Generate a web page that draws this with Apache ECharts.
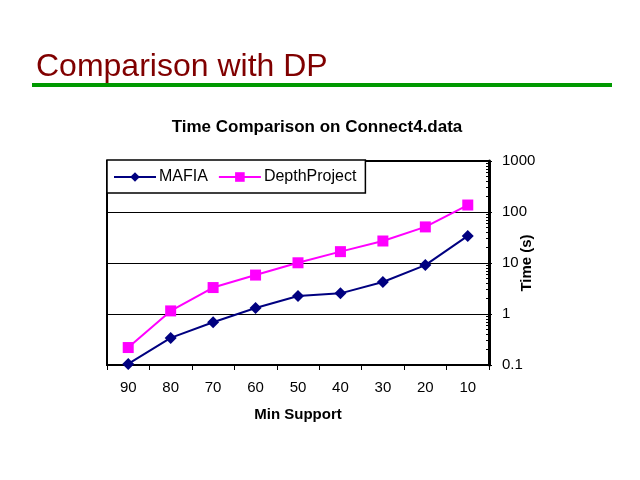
<!DOCTYPE html>
<html>
<head>
<meta charset="utf-8">
<script src="https://cdn.jsdelivr.net/npm/echarts@6/dist/echarts.min.js"></script>
<style>
html,body{margin:0;padding:0;background:#fff;}
#chart{width:640px;height:480px;}
</style>
</head>
<body>
<div id="chart"></div>
<script>
var categories = ['90', '80', '70', '60', '50', '40', '30', '20', '10'];
var mafia = [0.105, 0.34, 0.69, 1.31, 2.25, 2.54, 4.24, 9.1, 34];
var depthProject = [0.22, 1.15, 3.3, 5.8, 10.1, 16.7, 27, 51, 137];

var FONT = 'Arial, "Liberation Sans", sans-serif';
var chart = echarts.init(document.getElementById('chart'), null, {renderer: 'canvas'});
chart.setOption({
  animation: false,
  backgroundColor: '#ffffff',
  textStyle: {fontFamily: FONT},
  title: [
    {text: 'Comparison with DP', left: 31, top: 46,
     textStyle: {fontFamily: FONT, fontSize: 32, fontWeight: 'normal', color: '#800000'}},
    {text: 'Time Comparison on Connect4.data', left: 312, top: 114, textAlign: 'center',
     textStyle: {fontFamily: FONT, fontSize: 17, fontWeight: 'bold', color: '#000'}}
  ],
  graphic: [
    {type: 'rect', shape: {x: 32, y: 83, width: 580, height: 4}, style: {fill: '#009900'}, silent: true}
  ],
  legend: {
    left: 107, top: 160,
    padding: [9, 9, 8, 6],
    itemGap: 10,
    itemWidth: 42, itemHeight: 12,
    backgroundColor: '#ffffff',
    borderColor: '#000', borderWidth: 1.5, borderRadius: 0,
    textStyle: {fontFamily: FONT, fontSize: 16, color: '#000', padding: [0, 0, 0, -2]},
    data: ['MAFIA', 'DepthProject'],
    z: 10
  },
  grid: {left: 107, right: 151, top: 161, bottom: 115, show: true,
         borderColor: '#000', borderWidth: 2, backgroundColor: 'transparent'},
  xAxis: {
    type: 'category', data: categories, boundaryGap: true,
    name: 'Min Support', nameLocation: 'middle', nameGap: 42, nameMoveOverlap: false,
    nameTextStyle: {fontFamily: FONT, fontSize: 15, fontWeight: 'bold', color: '#000'},
    axisLine: {show: true, lineStyle: {color: '#000', width: 2}},
    axisTick: {show: true, length: 5, lineStyle: {color: '#000', width: 1}},
    axisLabel: {fontFamily: FONT, fontSize: 15, color: '#000', margin: 15},
    splitLine: {show: false}
  },
  yAxis: [
    {
      type: 'log', logBase: 10, min: 0.1, max: 1000, position: 'right',
      name: 'Time (s)', nameLocation: 'middle', nameGap: 30, nameRotate: 90, nameMoveOverlap: false,
      nameTextStyle: {fontFamily: FONT, fontSize: 15, fontWeight: 'bold', color: '#000'},
      axisLine: {show: true, lineStyle: {color: '#000', width: 3}},
      axisTick: {show: true, inside: true, length: 4, lineStyle: {color: '#000', width: 1}},
      minorTick: {show: true, splitNumber: 9, length: 3, lineStyle: {color: '#000', width: 1}},
      axisLabel: {fontFamily: FONT, fontSize: 15, color: '#000', margin: 13,
                  formatter: function (v) { return String(v); }},
      splitLine: {show: true, lineStyle: {color: '#000', width: 1}}
    },
    {
      type: 'log', logBase: 10, min: 0.1, max: 1000, position: 'right',
      axisLine: {show: false},
      axisTick: {show: true, inside: false, length: 3, lineStyle: {color: '#000', width: 1}},
      axisLabel: {show: false},
      splitLine: {show: false}
    }
  ],
  series: [
    {name: 'MAFIA', type: 'line', data: mafia, yAxisIndex: 0,
     symbol: 'diamond', symbolSize: 12,
     lineStyle: {color: '#000080', width: 2}, itemStyle: {color: '#000080'}, z: 3},
    {name: 'DepthProject', type: 'line', data: depthProject, yAxisIndex: 0,
     symbol: 'rect', symbolSize: 11,
     lineStyle: {color: '#ff00ff', width: 2}, itemStyle: {color: '#ff00ff'}, z: 2}
  ]
});
</script>
</body>
</html>
